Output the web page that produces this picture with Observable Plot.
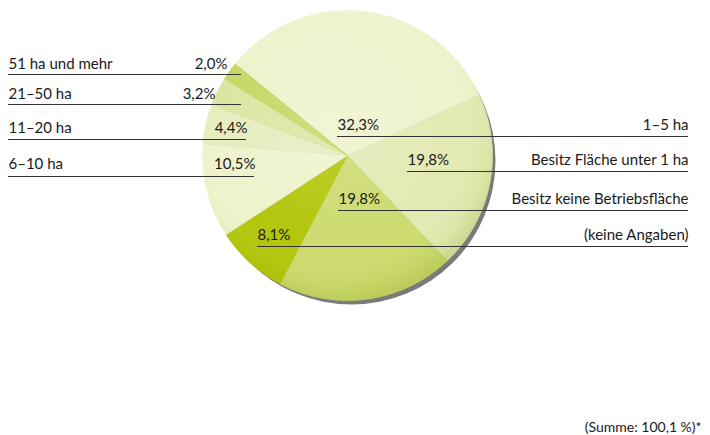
<!DOCTYPE html>
<html><head><meta charset="utf-8">
<script src="https://cdn.jsdelivr.net/npm/d3@7"></script>
<script src="https://cdn.jsdelivr.net/npm/@observablehq/plot@0.6"></script>
<style>body{margin:0;background:#fff}svg{display:block}</style>
</head><body><div id="chart"></div>
<script>
// ---- data (clockwise order, starting with the large top slice) ----
const categories = ["1–5 ha", "Besitz Fläche unter 1 ha", "Besitz keine Betriebsfläche", "(keine Angaben)", "6–10 ha", "11–20 ha", "21–50 ha", "51 ha und mehr"];
const values = [32.3, 19.8, 19.8, 8.1, 10.5, 4.4, 3.2, 2.0];
const valueLabels = ["32,3%", "19,8%", "19,8%", "8,1%", "10,5%", "4,4%", "3,2%", "2,0%"];
const footnote = "(Summe: 100,1 %)*";

// ---- styling / layout ----
const sliceColors = ["#eef3cd", "#e3eab4", "#cddb70", "#b3c60c", "#eef3cd", "#e6edbf", "#dce6a2", "#c6d866"];
const W = 710, H = 435, CX = 347, CY = 155, R = 145, START_DEG = -50.8;
const FONT = "Lato, 'Open Sans', sans-serif";
const labelLayout = {
  "51 ha und mehr": {side: "left", y: 68, line: 74, valEnd: 227, lineEnd: 241},
  "21–50 ha": {side: "left", y: 98, line: 104, valEnd: 215, lineEnd: 241},
  "11–20 ha": {side: "left", y: 132, line: 139, valEnd: 247, lineEnd: 246},
  "6–10 ha": {side: "left", y: 168, line: 176, valEnd: 255, lineEnd: 254},
  "1–5 ha": {side: "right", y: 129, line: 136, x0: 337},
  "Besitz Fläche unter 1 ha": {side: "right", y: 164, line: 171, x0: 407},
  "Besitz keine Betriebsfläche": {side: "right", y: 203, line: 210, x0: 338},
  "(keine Angaben)": {side: "right", y: 239, line: 246, x0: 257}
};
const LEFT_X = 8, RIGHT_X = 688;

// ---- pie geometry from the values ----
const arcs = d3.pie().sort(null).value(d => d.value)
  .startAngle(START_DEG * Math.PI / 180).endAngle(START_DEG * Math.PI / 180 + 2 * Math.PI)(
    categories.map((name, i) => ({name, value: values[i]})));
const piePts = [];
for (const a of arcs) {
  const n = Math.max(2, Math.ceil((a.endAngle - a.startAngle) / (Math.PI / 180)));
  piePts.push({name: a.data.name, x: CX, y: CY});
  for (let k = 0; k <= n; k++) {
    const t = a.startAngle + (a.endAngle - a.startAngle) * k / n;
    piePts.push({name: a.data.name, x: CX + R * Math.sin(t), y: CY - R * Math.cos(t)});
  }
  piePts.push({name: a.data.name, x: CX, y: CY});
}

// ---- label rows ----
const startTexts = [], endTexts = [], rules = [];
categories.forEach((name, i) => {
  const L = labelLayout[name];
  if (L.side === "left") {
    startTexts.push({x: LEFT_X, y: L.y, t: name});
    endTexts.push({x: L.valEnd, y: L.y, t: valueLabels[i]});
    rules.push({x1: LEFT_X, x2: L.lineEnd, y: L.line});
  } else {
    startTexts.push({x: L.x0, y: L.y, t: valueLabels[i]});
    endTexts.push({x: RIGHT_X, y: L.y, t: name});
    rules.push({x1: L.x0, x2: RIGHT_X, y: L.line});
  }
});
const footTexts = [{x: 701, y: 431, t: footnote}];

const chart = Plot.plot({
  width: W, height: H,
  marginTop: 0, marginRight: 0, marginBottom: 0, marginLeft: 0,
  x: {domain: [0, W], range: [0, W], axis: null},
  y: {domain: [0, H], range: [0, H], axis: null},
  color: {domain: categories, range: sliceColors},
  style: {fontFamily: FONT, background: "#fff"},
  marks: [
    Plot.dot([{x: CX + 4, y: CY + 5}], {x: "x", y: "y", r: R - 1, fill: "#7a7a7a", ariaLabel: "shadow"}),
    Plot.line(piePts, {x: "x", y: "y", z: "name", fill: "name", stroke: "name", strokeWidth: 0.6}),
    Plot.dot([{x: CX, y: CY}], {x: "x", y: "y", r: R, fill: "url(#pieShade)", ariaLabel: "shade"}),
    Plot.ruleY(rules, {y: "y", x1: "x1", x2: "x2", stroke: "#333", strokeWidth: 1.2}),
    Plot.text(startTexts, {x: "x", y: "y", text: "t", textAnchor: "start", lineAnchor: "bottom", fontSize: 15, fill: "#1a1a1a"}),
    Plot.text(endTexts, {x: "x", y: "y", text: "t", textAnchor: "end", lineAnchor: "bottom", fontSize: 15, fill: "#1a1a1a"}),
    Plot.text(footTexts, {x: "x", y: "y", text: "t", textAnchor: "end", lineAnchor: "bottom", fontSize: 14, fill: "#1a1a1a"})
  ]
});

const svg = d3.select(chart);
const defs = svg.insert("defs", ":first-child");
const f = defs.append("filter").attr("id", "blurShadow").attr("x", "-20%").attr("y", "-20%").attr("width", "140%").attr("height", "140%");
f.append("feGaussianBlur").attr("stdDeviation", 4);
const g = defs.append("radialGradient").attr("id", "pieShade").attr("cx", "45%").attr("cy", "40%").attr("r", "60%");
g.append("stop").attr("offset", "0%").attr("stop-color", "#ffffff").attr("stop-opacity", 0.15);
g.append("stop").attr("offset", "70%").attr("stop-color", "#ffffff").attr("stop-opacity", 0);
g.append("stop").attr("offset", "90%").attr("stop-color", "#8fa010").attr("stop-opacity", 0.07);
g.append("stop").attr("offset", "100%").attr("stop-color", "#7d8f00").attr("stop-opacity", 0.2);
svg.select("g[aria-label=shadow]").attr("filter", "url(#blurShadow)").attr("opacity", 0.5);
document.getElementById("chart").appendChild(chart);
</script>
</body></html>
